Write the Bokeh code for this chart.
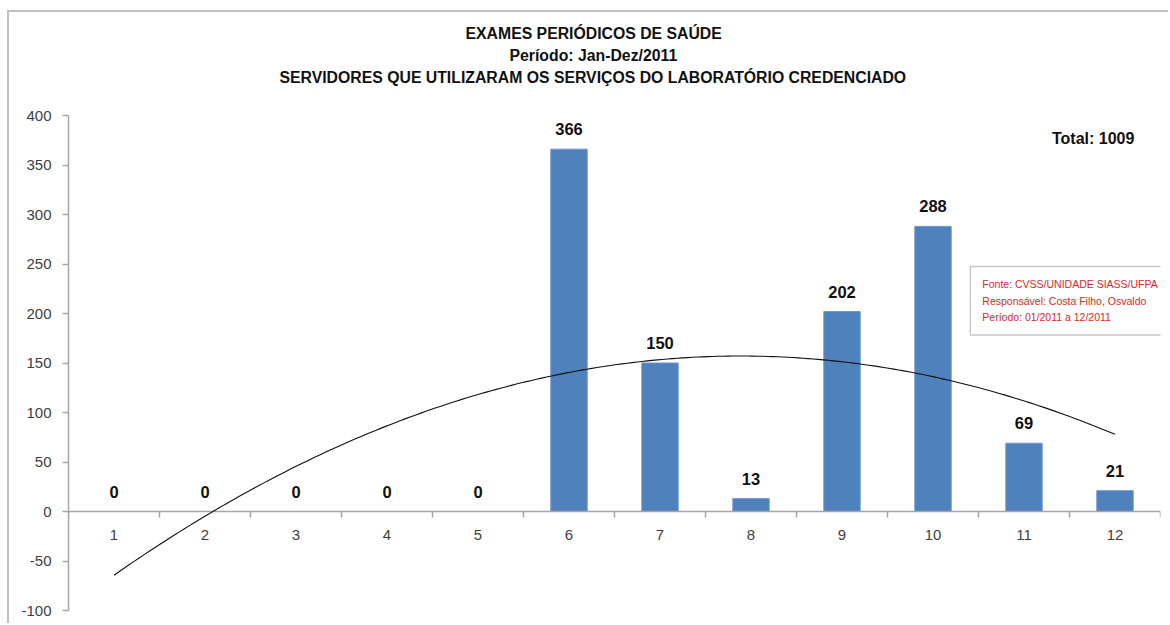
import numpy as np
from bokeh.plotting import figure
from bokeh.models import Range1d, FixedTicker, Label, Title, ColumnDataSource
from bokeh.core.properties import value
from bokeh.embed import file_html
from bokeh.resources import INLINE

# ---- data ----
months = [1, 2, 3, 4, 5, 6, 7, 8, 9, 10, 11, 12]
month_labels = ["1", "2", "3", "4", "5", "6", "7", "8", "9", "10", "11", "12"]
exams = [0, 0, 0, 0, 0, 366, 150, 13, 202, 288, 69, 21]
y_ticks = [-100, -50, 0, 50, 100, 150, 200, 250, 300, 350, 400]
title_lines = [
    "EXAMES PERIÓDICOS DE SAÚDE",
    "Período: Jan-Dez/2011",
    "SERVIDORES QUE UTILIZARAM OS SERVIÇOS DO LABORATÓRIO CREDENCIADO",
]
total_text = "Total: 1009"
source_text = "Fonte: CVSS/UNIDADE SIASS/UFPA\nResponsável: Costa Filho, Osvaldo\nPeríodo: 01/2011 a 12/2011"
trend_order = 2  # Excel polynomial trendline

SANS = "'Liberation Sans', Arial, sans-serif"
BAR = "#4f81bd"
AXIS = "#a6a6a6"
LABEL = "#404040"
DARK = "#111111"

x_lo, x_hi = months[0] - 0.5, months[-1] + 0.5

p = figure(width=1161, height=613, output_backend="svg", toolbar_location=None,
           x_range=Range1d(x_lo, x_hi), y_range=Range1d(y_ticks[0], y_ticks[-1]),
           min_border_left=59, min_border_right=10, min_border_top=103, min_border_bottom=15)
p.styles = {"margin-left": "7px", "margin-top": "10px",
            "border-top": "2px solid #c0c0c0", "border-left": "2px solid #c0c0c0"}
p.background_fill_color = "white"
p.border_fill_color = "white"
p.outline_line_color = None
p.grid.visible = False
p.xaxis.visible = False

# titles: a spacer next to the frame, then the three lines outward,
# each left-aligned with an offset so that it is centred at the chart's middle
TITLE_SIZE = 15.8
title_em = [16.225, 10.67, 39.78]   # approximate text widths in em
title_centre = 525                 # px from the frame's left edge
p.add_layout(Title(text=" ", text_font_size="1px", standoff=25), "above")
for line, em in reversed(list(zip(title_lines, title_em))):
    p.add_layout(Title(text=line, align="left",
                       offset=int(round(title_centre - em * TITLE_SIZE / 2)),
                       text_font=SANS, text_font_size=f"{TITLE_SIZE}px",
                       text_font_style="bold", text_color=DARK, standoff=3), "above")

# y axis
ya = p.yaxis[0]
ya.ticker = FixedTicker(ticks=y_ticks)
ya.major_label_overrides = {t: str(t) for t in y_ticks}
ya.axis_line_color = AXIS
ya.axis_line_width = 1.5
ya.major_tick_line_color = AXIS
ya.major_tick_line_width = 1.5
ya.major_tick_out = 6
ya.major_tick_in = 0
ya.minor_tick_line_color = None
ya.major_label_text_font = SANS
ya.major_label_text_font_size = "15px"
ya.major_label_text_color = LABEL
ya.major_label_standoff = 11

# bars
src = ColumnDataSource(dict(x=months, top=exams, lab=[str(v) for v in exams]))
p.vbar(x="x", top="top", bottom=0, width=0.4, source=src,
       fill_color=BAR, line_color="#6c95c8", line_width=1)

# x axis drawn at y = 0
zero = [0] * (len(months) + 1)
bounds = [m - 0.5 for m in months] + [months[-1] + 0.5]
p.segment(x0=[x_lo], y0=[0], x1=[x_hi], y1=[0], line_color=AXIS, line_width=1.5)
p.ray(x=bounds, y=zero, length=6, length_units="screen", angle=-np.pi / 2,
      line_color=AXIS, line_width=1.5)
p.text(x=months, y=[0] * len(months), text=month_labels, text_align="center",
       text_baseline="top", y_offset=18, text_font=value(SANS),
       text_font_size="15px", text_color=LABEL)

# trendline (polynomial fit of the series, as Excel draws it)
coef = np.polyfit(months, exams, trend_order)
xs = np.linspace(months[0], months[-1], 200)
p.line(xs, np.polyval(coef, xs), line_color=DARK, line_width=1.1)

# value labels
p.text(x="x", y="top", text="lab", source=src, text_align="center",
       text_baseline="bottom", y_offset=-14, text_font=value(SANS),
       text_font_size="16.5px", text_font_style="bold", text_color=DARK)

# total
p.add_layout(Label(x=11.76, y=377, text=total_text, text_align="center",
                   text_baseline="middle", text_font=SANS, text_font_size="16px",
                   text_font_style="bold", text_color=DARK))

# source box
p.add_layout(Label(x=10.41, y=247.5, text=source_text, text_align="left",
                   text_baseline="top", text_font=SANS, text_font_size="10.5px",
                   text_color="#d42a2a", text_line_height=1.35,
                   background_fill_color="white", border_line_color="#c8c8c8",
                   border_line_width=1.5, padding=12))

open("out.html", "w").write(file_html(p, INLINE))
